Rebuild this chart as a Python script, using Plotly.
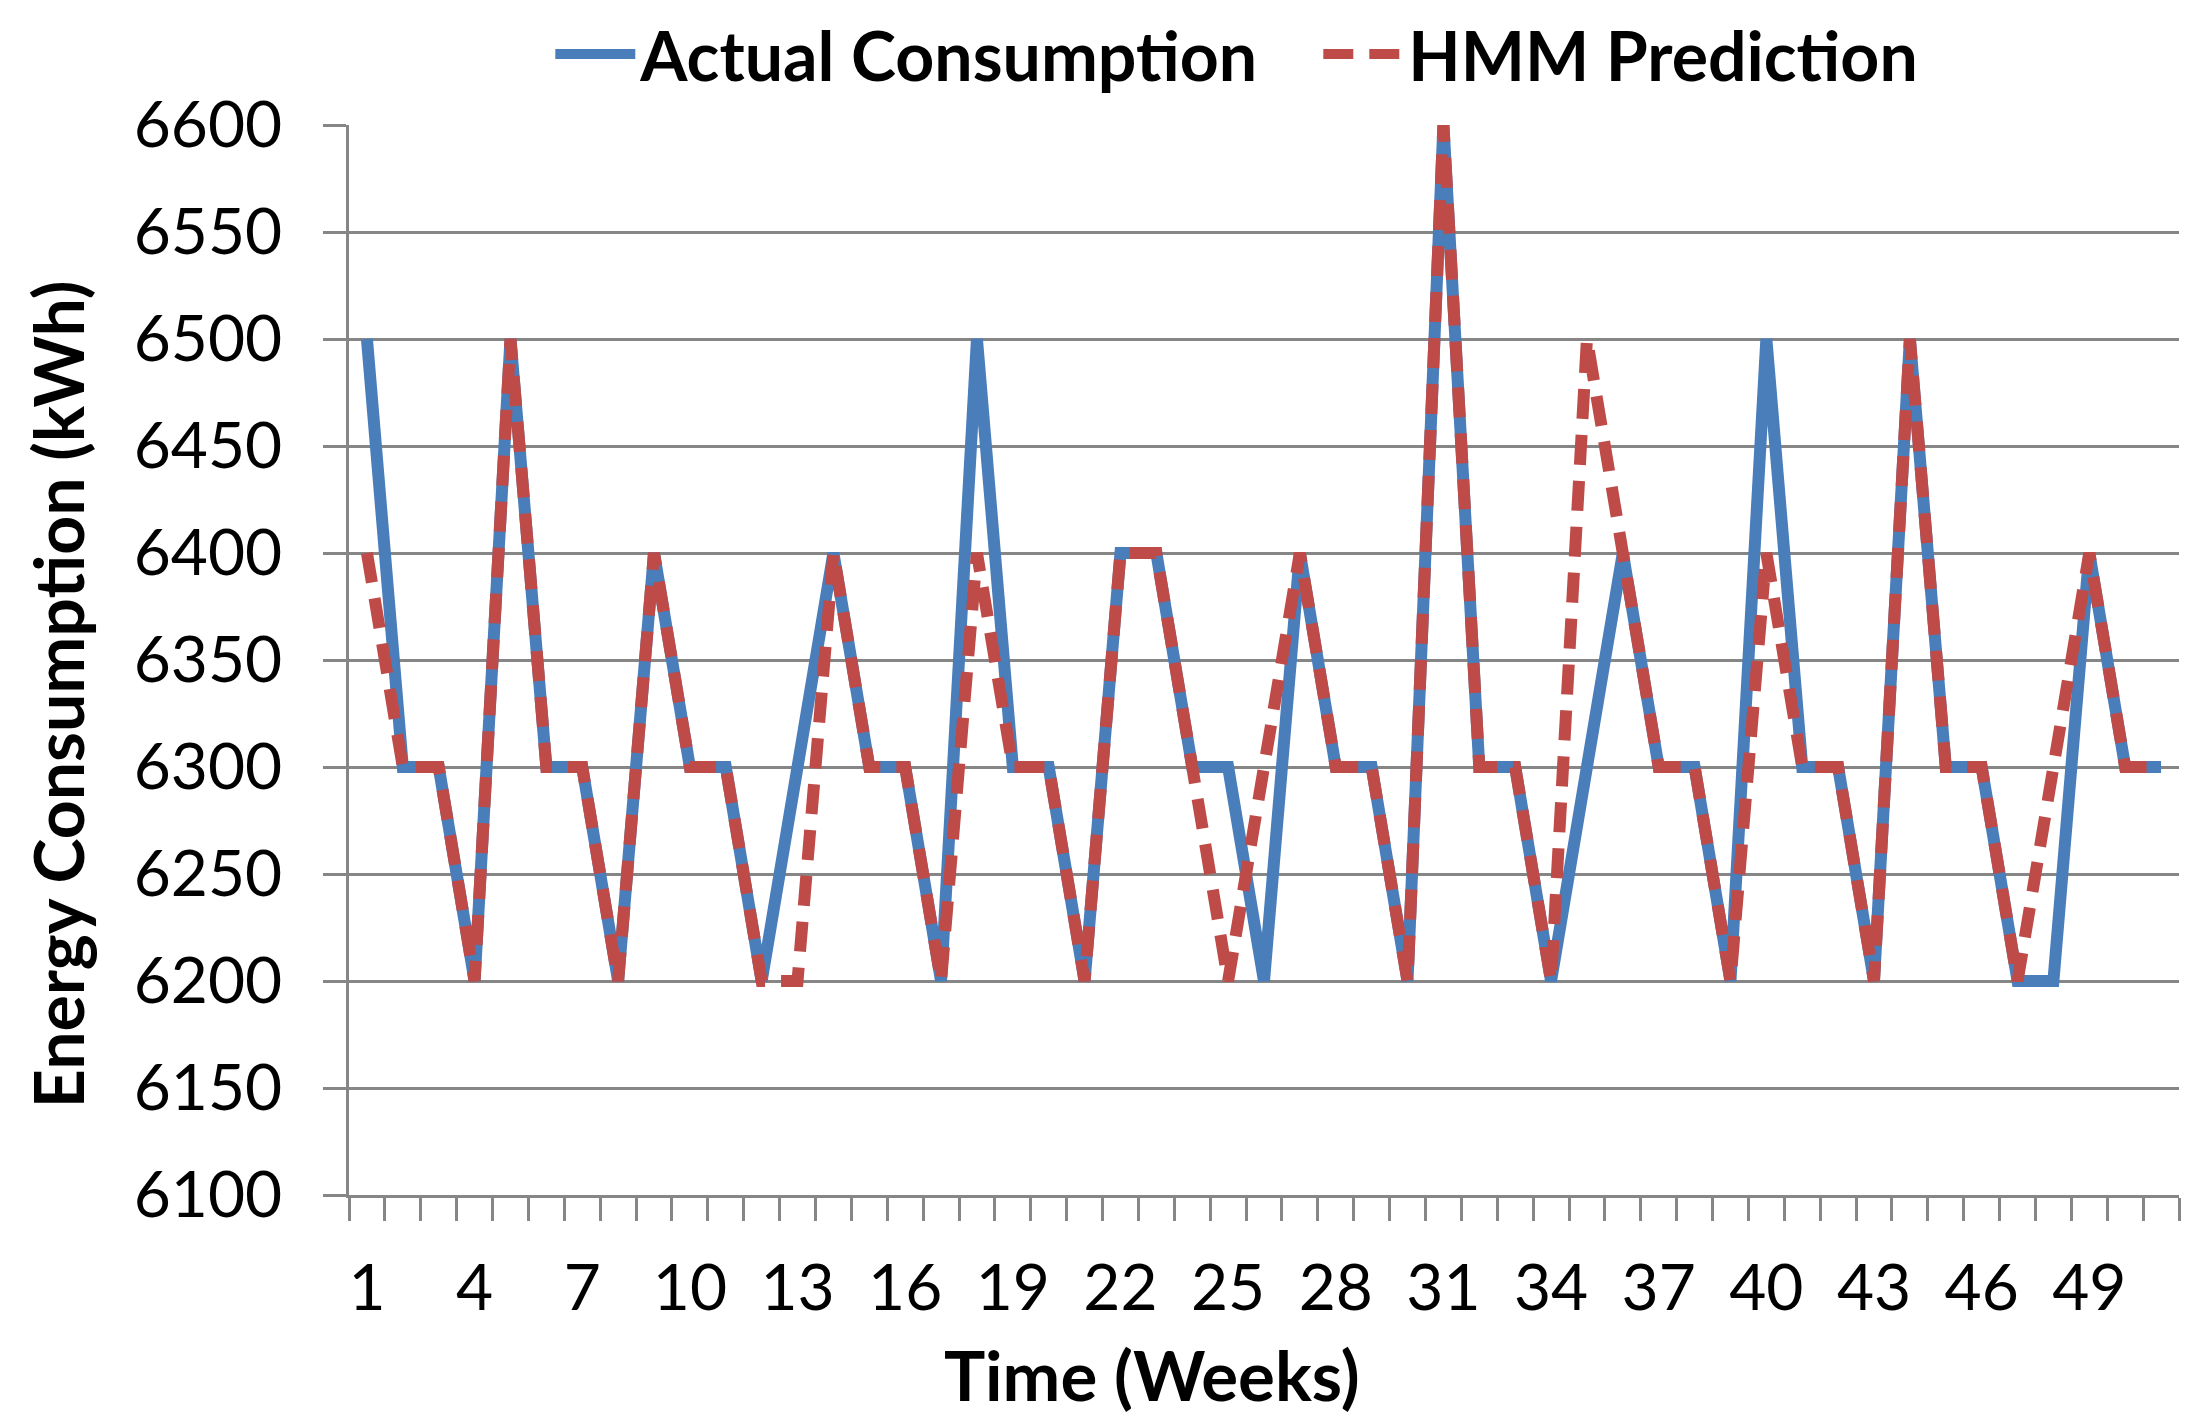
import plotly.graph_objects as go

weeks = list(range(1, 52))
actual = [6500, 6300, 6300, 6200, 6500, 6300, 6300, 6200, 6400, 6300,
          6300, 6200, 6300, 6400, 6300, 6300, 6200, 6500, 6300, 6300,
          6200, 6400, 6400, 6300, 6300, 6200, 6400, 6300, 6300, 6200,
          6600, 6300, 6300, 6200, 6300, 6400, 6300, 6300, 6200, 6500,
          6300, 6300, 6200, 6500, 6300, 6300, 6200, 6200, 6400, 6300,
          6300]
hmm = [6400, 6300, 6300, 6200, 6500, 6300, 6300, 6200, 6400, 6300,
       6300, 6200, 6200, 6400, 6300, 6300, 6200, 6400, 6300, 6300,
       6200, 6400, 6400, 6300, 6200, 6300, 6400, 6300, 6300, 6200,
       6600, 6300, 6300, 6200, 6500, 6400, 6300, 6300, 6200, 6400,
       6300, 6300, 6200, 6500, 6300, 6300, 6200, 6300, 6400, 6300,
       6300]
x_tick_vals = list(range(1, 52, 3))
x_tick_text = [str(v) for v in x_tick_vals]
y_tick_vals = list(range(6100, 6601, 50))

FONT = "Lato"
GRID = "#868686"

fig = go.Figure()
fig.add_trace(go.Scatter(x=weeks, y=actual, mode="lines", name="Actual Consumption",
                         line=dict(color="#4A7EBB", width=12)))
fig.add_trace(go.Scatter(x=weeks, y=hmm, mode="lines", name="HMM Prediction",
                         line=dict(color="#BE4B48", width=12, dash="30px,16px")))

fig.update_layout(
    width=2198, height=1428,
    paper_bgcolor="white", plot_bgcolor="white",
    margin=dict(l=341, r=27, t=117, b=241, autoexpand=False),
    font=dict(family=FONT, color="black"),
    showlegend=True,
    legend=dict(orientation="h", x=0.110, xanchor="left", y=1.066, yanchor="middle",
                font=dict(family=FONT, size=68, color="black", weight="bold"),
                entrywidth=673, itemwidth=80, tracegroupgap=0),
    xaxis=dict(
        range=[0.5, 51.5], tickmode="array", tickvals=x_tick_vals, ticktext=x_tick_text,
        ticks="", showgrid=False, zeroline=False,
        showline=True, linecolor=GRID, linewidth=3,
        tickfont=dict(family=FONT, size=64, color="black"),
        ticklabelstandoff=35,
        minor=dict(ticks="outside", tick0=0.5, dtick=1, ticklen=23, tickwidth=3,
                   tickcolor=GRID, showgrid=False),
    ),
    yaxis=dict(
        range=[6100, 6600], tickmode="array", tickvals=y_tick_vals,
        showgrid=True, gridcolor=GRID, gridwidth=3,
        zeroline=False, showline=True, linecolor=GRID, linewidth=3,
        ticks="outside", ticklen=23, tickwidth=3, tickcolor=GRID,
        tickfont=dict(family=FONT, size=64, color="black"),
        ticklabelstandoff=28,
    ),
    annotations=[
        dict(text="Time (Weeks)", xref="paper", yref="paper", x=0.439, y=-0.168,
             xanchor="center", yanchor="middle", showarrow=False,
             font=dict(family=FONT, size=69, color="black", weight="bold")),
        dict(text="Energy Consumption (kWh)", xref="paper", yref="paper", x=-0.1596, y=0.468,
             xanchor="center", yanchor="middle", showarrow=False, textangle=-90,
             font=dict(family=FONT, size=68, color="black", weight="bold")),
    ],
)

fig.write_html("out.html")
